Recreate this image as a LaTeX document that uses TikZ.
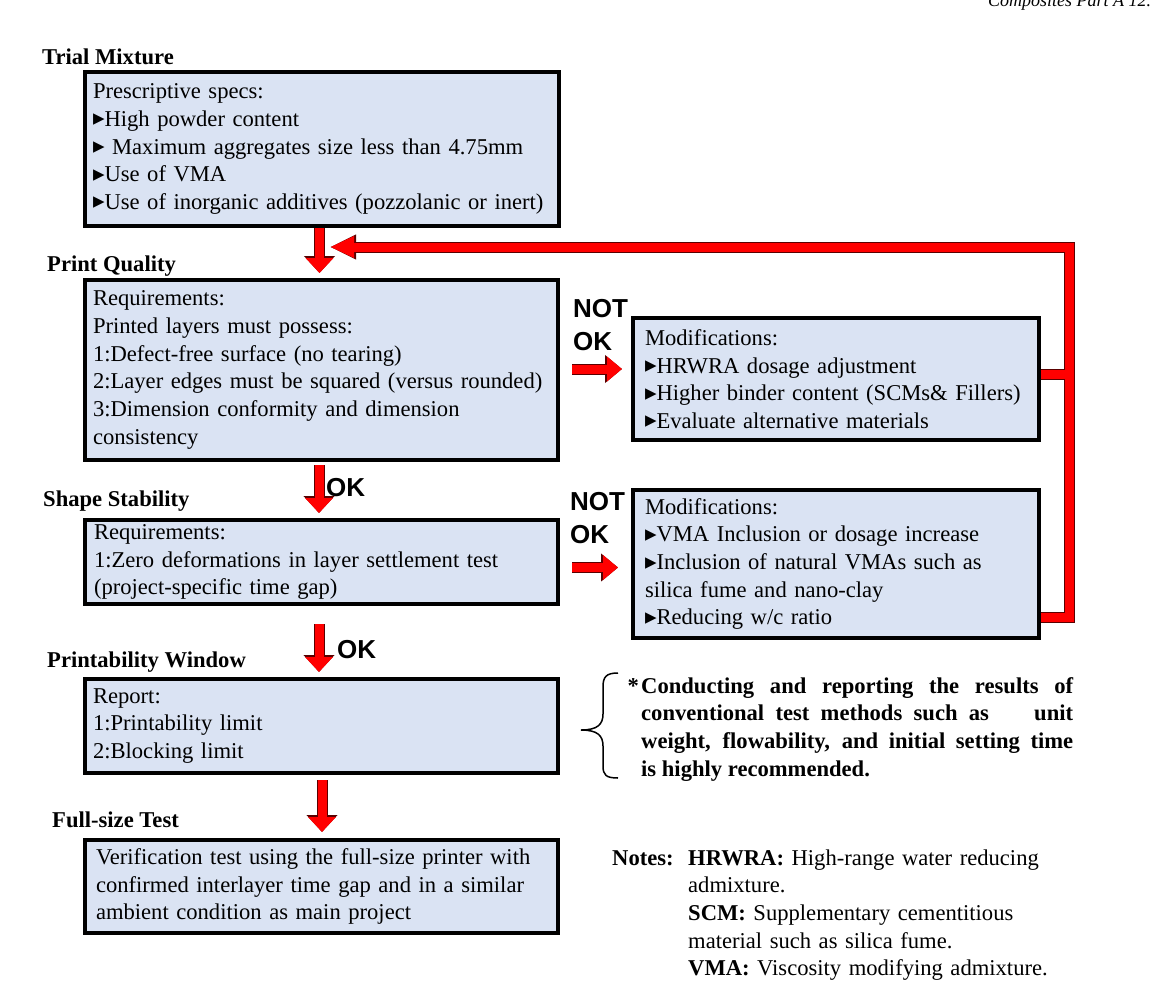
\documentclass[tikz,border=0pt]{standalone}
\usepackage{fontspec}
\setmainfont{Liberation Serif}
\newfontfamily\arialf{Liberation Sans}
\newfontfamily\dejavu{DejaVu Sans}
\usetikzlibrary{arrows.meta,calc}
\definecolor{boxblue}{HTML}{DAE3F3}
\definecolor{arrowred}{HTML}{FF0000}
\definecolor{arrowdark}{HTML}{5A0000}
\newcommand\bodyf{\fontsize{22.6}{27.7}\selectfont}
\newcommand\mytri{{\dejavu\fontsize{23}{23}\selectfont\raisebox{0.5pt}{▸}}}
\newcommand\redarrow[5]{%
  \draw[arrowdark, line width=11pt, line join=miter, -{Triangle[#2]}, #1] #4 -- #5;
  \draw[arrowred, line width=9pt, line join=miter, -{Triangle[#3]}, #1] #4 -- #5;}
\begin{document}
\begin{tikzpicture}[x=1pt,y=-1pt,
  box/.style={draw=black, line width=3.5pt, fill=boxblue, anchor=north west,
    outer sep=0pt, inner xsep=8pt, inner ysep=0pt, align=left, font=\bodyf},
  title/.style={anchor=base west, inner sep=0pt, font=\bfseries\bodyf},
  lbl/.style={anchor=base west, inner sep=0pt, align=left, text width=70pt,
    font=\arialf\bfseries\fontsize{26}{33}\selectfont}]
\useasboundingbox (0,0) rectangle (1154,985);
\fill[white] (0,0) rectangle (1154,985);

\node[anchor=base west, inner sep=0pt, font=\itshape\fontsize{18}{18}\selectfont] (hdr) at (988,6) {Composites Part A 12.};

% titles
\node[title] (tTM) at (42,64) {Trial Mixture};
\node[title] (tPQ) at (47,271) {Print Quality};
\node[title] (tSS) at (43,506) {Shape Stability};
\node[title] (tPW) at (47,667) {Printability Window};
\node[title] (tFS) at (52,827) {Full-size Test};

% boxes
\node[box, text width=458pt, minimum width=474pt, minimum height=154pt] (t1) at (85,72)
 {Prescriptive specs:\\ \mytri High powder content\\ \mytri\ Maximum aggregates size less than 4.75mm\\ \mytri Use of VMA\\ \mytri Use of inorganic additives (pozzolanic or inert)};
\node[box, text width=457pt, minimum width=473pt, minimum height=180pt] (pq) at (85,280)
 {Requirements:\\ Printed layers must possess:\\ 1:Defect-free surface (no tearing)\\ 2:Layer edges must be squared (versus rounded)\\ 3:Dimension conformity and dimension\\ consistency};
\node[box, inner xsep=9pt, text width=455pt, minimum width=473pt, minimum height=84pt] (ss) at (85,520)
 {Requirements:\\ 1:Zero deformations in layer settlement test\\ (project-specific time gap)};
\node[box, text width=457pt, minimum width=473pt, minimum height=94pt] (pw) at (85,679)
 {Report:\\ 1:Printability limit\\ 2:Blocking limit};
\node[box, inner xsep=11pt, text width=451pt, minimum width=473pt, minimum height=93pt] (fs) at (85,840)
 {Verification test using the full-size printer with\\ confirmed interlayer time gap and in a similar\\ ambient condition as main project};
\node[box, inner xsep=12pt, text width=382pt, minimum width=406pt, minimum height=122pt] (m1) at (633,318)
 {Modifications:\\ \mytri HRWRA dosage adjustment\\ \mytri Higher binder content (SCMs\& Fillers)\\ \mytri Evaluate alternative materials};
\node[box, inner xsep=12pt, text width=382pt, minimum width=406pt, minimum height=148pt] (m2) at (633,490)
 {Modifications:\\ \mytri VMA Inclusion or dosage increase\\ \mytri Inclusion of natural VMAs such as\\ silica fume and nano-clay\\ \mytri Reducing w/c ratio};

% labels
\node[lbl] (no1) at (573,317) {NOT\\OK};
\node[lbl] (no2) at (570,510) {NOT\\OK};
\node[lbl] (ok1) at (326,496) {OK};
\node[lbl] (ok2) at (337,658) {OK};

% down arrows
\redarrow{shorten <=2pt, shorten >=7pt}{length=17pt,width=30pt}{length=15pt,width=27pt}
  {($(t1.south)+(-2.5,0)$)}{($(t1.south |- pq.north)+(-2.5,0)$)}
\redarrow{shorten <=5pt, shorten >=7pt}{length=17pt,width=30pt}{length=15pt,width=27pt}
  {($(pq.south)+(-2.5,0)$)}{($(pq.south |- ss.north)+(-2.5,0)$)}
\redarrow{shorten <=20pt, shorten >=7pt}{length=17pt,width=30pt}{length=15pt,width=27pt}
  {($(ss.south)+(-2.5,0)$)}{($(ss.south |- pw.north)+(-2.5,0)$)}
\redarrow{shorten <=7pt, shorten >=8pt}{length=17pt,width=30pt}{length=15pt,width=27pt}
  {($(pw.south)+(0.5,0)$)}{($(pw.south |- fs.north)+(0.5,0)$)}
% NOT OK arrows
\redarrow{shorten <=14pt, shorten >=11pt}{length=17pt,width=27pt}{length=15pt,width=24pt}
  {($(pq.east)+(0,-1)$)}{($(pq.east -| m1.west)+(0,-1)$)}
\redarrow{shorten <=14pt, shorten >=15pt}{length=17pt,width=27pt}{length=15pt,width=24pt}
  {($(ss.east)+(0,5.5)$)}{($(ss.east -| m2.west)+(0,5.5)$)}

% feedback loop
\coordinate (fbT) at (1069,247);
\coordinate (fbE) at (330,247);
\coordinate (b1) at ($(m1.east)+(0,-5)$);
\coordinate (b2) at ($(m2.south east)+(0,-21)$);
\draw[arrowdark, line width=11pt, line join=miter, shorten <=1.75pt] (b1) -- (b1 -| fbT);
\draw[arrowdark, line width=11pt, line join=miter, shorten <=1.75pt, -{Triangle[length=26pt,width=23pt]}] (b2) -| (fbT) -- (fbE);
\draw[arrowred, line width=9pt, line join=miter, shorten <=1.75pt] (b1) -- (b1 -| fbT);
\draw[arrowred, line width=9pt, line join=miter, shorten <=1.75pt, -{Triangle[length=24pt,width=20pt]}] (b2) -| (fbT) -- (fbE);

% brace and recommendation
\draw[line width=1.5pt] (618,673) .. controls (606,673) and (603,677) .. (603,687) -- (603,714)
  .. controls (603,724) and (598,730) .. (581,730) .. controls (598,730) and (603,736) .. (603,746)
  -- (603,766) .. controls (603,775) and (606,778) .. (618,778);
\node[anchor=base east, inner sep=0pt, font=\bfseries\bodyf] (ast) at (639,693) {*};
\node[anchor=base west, inner sep=0pt, text width=432pt, align=justify, font=\bfseries\bodyf] (rec) at (641,693)
 {Conducting and reporting the results of\linebreak conventional test methods such as\hspace{1.5em} unit\linebreak weight, flowability, and initial setting time\linebreak is highly recommended.};

% notes
\node[anchor=base west, inner sep=0pt, font=\bfseries\bodyf] (notesl) at (612,865) {Notes:};
\node[anchor=base west, inner sep=0pt, text width=440pt, align=left, font=\bodyf] (notes) at (688,865)
 {\textbf{HRWRA:} High-range water reducing\\ admixture.\\ \textbf{SCM:} Supplementary cementitious\\ material such as silica fume.\\ \textbf{VMA:} Viscosity modifying admixture.};
\end{tikzpicture}
\end{document}
